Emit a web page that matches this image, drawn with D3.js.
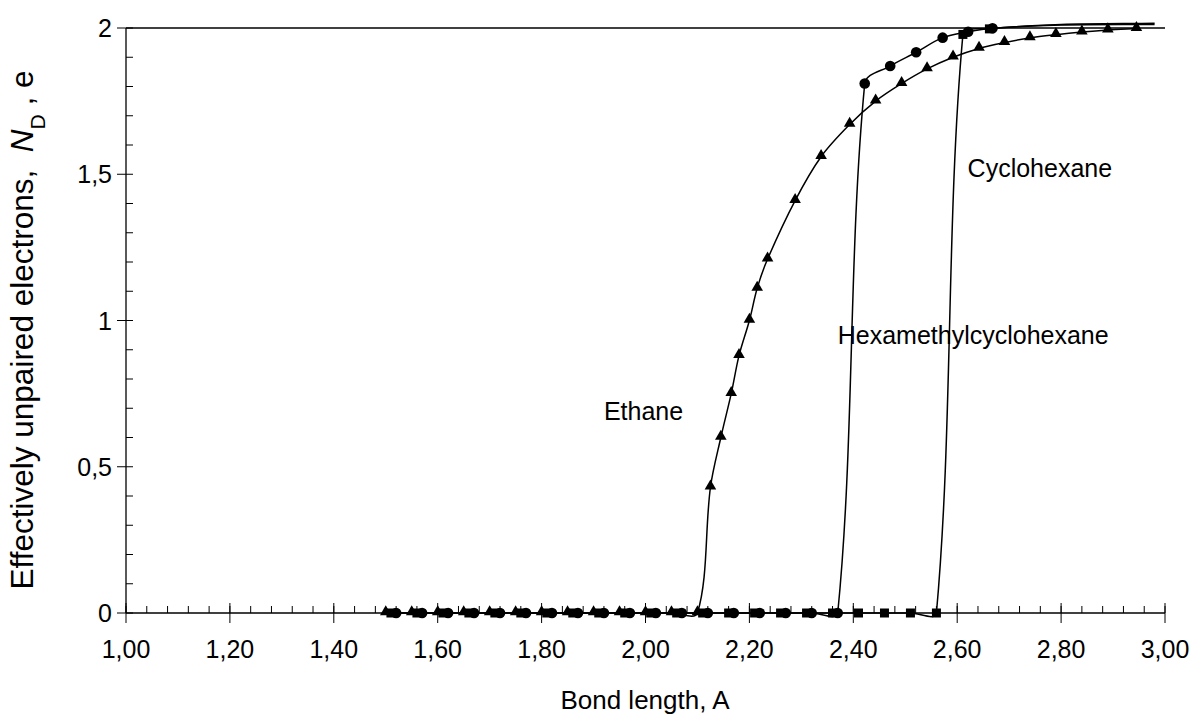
<!DOCTYPE html>
<html>
<head>
<meta charset="utf-8">
<script src="https://cdn.jsdelivr.net/npm/d3@7"></script>
<style>
html,body{margin:0;padding:0;background:#fff;}
text{font-family:Arial,"Liberation Sans",sans-serif;fill:#000;}
</style>
</head>
<body>
<svg id="chart" width="1193" height="724"></svg>
<script>
// ---- data ----
const xTicks = [1.00,1.20,1.40,1.60,1.80,2.00,2.20,2.40,2.60,2.80,3.00];
const yTicks = [0,0.5,1,1.5,2];
const xTickLabels = ["1,00","1,20","1,40","1,60","1,80","2,00","2,20","2,40","2,60","2,80","3,00"];
const yTickLabels = ["0","0,5","1","1,5","2"];

// Ethane (triangles)
const ethaneX = [1.50,1.55,1.60,1.65,1.70,1.75,1.80,1.85,1.90,1.95,2.00,2.05,2.10,
                 2.125,2.145,2.165,2.18,2.20,2.215,2.235,2.288,2.338,2.393,2.443,2.493,2.542,2.592,2.642,2.691,2.74,2.79,2.84,2.89,2.945];
const ethaneY = [0,0,0,0,0,0,0,0,0,0,0,0,0,
                 0.43,0.60,0.75,0.88,1.00,1.11,1.21,1.41,1.56,1.67,1.75,1.81,1.86,1.90,1.93,1.95,1.966,1.977,1.986,1.993,1.998];

// Hexamethylcyclohexane (circles)
const hexX = [1.52,1.57,1.62,1.67,1.72,1.77,1.82,1.87,1.92,1.97,2.02,2.07,2.12,2.17,2.22,2.27,2.32,2.37,
              2.422,2.471,2.521,2.572,2.621,2.668];
const hexY = [0,0,0,0,0,0,0,0,0,0,0,0,0,0,0,0,0,0,
              1.81,1.87,1.917,1.967,1.987,1.999];
// line continuation without markers
const hexTailX = [2.80,2.98];
const hexTailY = [2.010,2.012];

// Cyclohexane (squares)
const cycX = [1.51,1.56,1.61,1.66,1.71,1.76,1.81,1.86,1.91,1.96,2.01,2.06,2.11,2.16,2.21,2.26,2.31,2.36,2.41,2.46,2.51,2.56,
              2.611,2.662];
const cycY = [0,0,0,0,0,0,0,0,0,0,0,0,0,0,0,0,0,0,0,0,0,0,
              1.978,1.997];
const cycTailX = [2.80,2.98];
const cycTailY = [2.012,2.016];

const labels = [
  {text:"Ethane", x:1.92, y:0.66},
  {text:"Hexamethylcyclohexane", x:2.37, y:0.92},
  {text:"Cyclohexane", x:2.62, y:1.49}
];

// ---- layout ----
const svg = d3.select("#chart");
const L = 126, R = 1165, T = 28, B = 613;
const x = d3.scaleLinear().domain([1,3]).range([L,R]);
const y = d3.scaleLinear().domain([0,2]).range([B,T]);
const FS = 25;

// top border
svg.append("line").attr("x1",L).attr("x2",R).attr("y1",T).attr("y2",T)
  .attr("stroke","#000").attr("stroke-width",1.3);

// x axis minor ticks (inside, up)
const xMinor = d3.range(0,51).map(i=>1+i*0.04);
svg.append("g").selectAll("line").data(xMinor).join("line")
  .attr("x1",d=>x(d)).attr("x2",d=>x(d)).attr("y1",B).attr("y2",B-7)
  .attr("stroke","#000").attr("stroke-width",1);
// x major ticks (cross)
svg.append("g").selectAll("line").data(xTicks).join("line")
  .attr("x1",d=>x(d)).attr("x2",d=>x(d)).attr("y1",B-10).attr("y2",B+10)
  .attr("stroke","#000").attr("stroke-width",1);
// y minor ticks (inside, right)
const yMinor = d3.range(0,21).map(i=>i*0.1);
svg.append("g").selectAll("line").data(yMinor).join("line")
  .attr("x1",L).attr("x2",L+7).attr("y1",d=>y(d)).attr("y2",d=>y(d))
  .attr("stroke","#000").attr("stroke-width",1);
// y major ticks (outside)
svg.append("g").selectAll("line").data(yTicks).join("line")
  .attr("x1",L-9).attr("x2",L).attr("y1",d=>y(d)).attr("y2",d=>y(d))
  .attr("stroke","#000").attr("stroke-width",1);

// axis line
svg.append("line").attr("x1",L).attr("x2",L).attr("y1",T).attr("y2",B).attr("stroke","#000").attr("stroke-width",1.3);

// tick labels
svg.append("g").selectAll("text").data(xTicks).join("text")
  .attr("x",d=>x(d)).attr("y",B+45).attr("text-anchor","middle")
  .style("font-size",FS+"px").text((d,i)=>xTickLabels[i]);
svg.append("g").selectAll("text").data(yTicks).join("text")
  .attr("x",L-14).attr("y",d=>y(d)+9).attr("text-anchor","end")
  .style("font-size",FS+"px").text((d,i)=>yTickLabels[i]);

// axis titles
svg.append("text").attr("x",645).attr("y",709).attr("text-anchor","middle")
  .style("font-size","26px").text("Bond length, A");
const yt = svg.append("text").attr("transform","translate(33,330) rotate(-90)")
  .attr("text-anchor","middle").style("font-size","31.5px");
yt.append("tspan").text("Effectively unpaired electrons,\u00A0\u00A0");
yt.append("tspan").style("font-style","italic").text("N");
yt.append("tspan").attr("baseline-shift","sub").style("font-size","21px").text("D");
yt.append("tspan").text("\u00A0, e");

// Excel-like smoothing: Bezier with arms proportional to segment lengths
function smoothPath(pts){
  const p = d3.path();
  const n = pts.length;
  p.moveTo(pts[0][0], pts[0][1]);
  const dist = (a,b)=>Math.hypot(b[0]-a[0], b[1]-a[1]);
  for(let i=0;i<n-1;i++){
    const P0 = pts[Math.max(i-1,0)], P1 = pts[i], P2 = pts[i+1], P3 = pts[Math.min(i+2,n-1)];
    const d01 = dist(P0,P1), d12 = dist(P1,P2), d23 = dist(P2,P3);
    const t = 1/3;
    const f1 = (d01+d12)>0 ? t*d12/(d01+d12) : 0;
    const f2 = (d12+d23)>0 ? t*d12/(d12+d23) : 0;
    const c1 = [P1[0]+(P2[0]-P0[0])*f1, P1[1]+(P2[1]-P0[1])*f1];
    const c2 = [P2[0]-(P3[0]-P1[0])*f2, P2[1]-(P3[1]-P1[1])*f2];
    p.bezierCurveTo(c1[0],c1[1],c2[0],c2[1],P2[0],P2[1]);
  }
  return p.toString();
}

const series = [
  {xs:ethaneX, ys:ethaneY, tx:[], ty:[], shape:"tri"},
  {xs:hexX, ys:hexY, tx:hexTailX, ty:hexTailY, shape:"circ"},
  {xs:cycX, ys:cycY, tx:cycTailX, ty:cycTailY, shape:"sq"}
];
// x axis line
svg.append("line").attr("x1",L).attr("x2",R).attr("y1",B).attr("y2",B).attr("stroke","#000").attr("stroke-width",1.3);

series.forEach(s=>{
  const pts = s.xs.map((v,i)=>[x(v),y(s.ys[i])]).concat(s.tx.map((v,i)=>[x(v),y(s.ty[i])]));
  svg.append("path").attr("d",smoothPath(pts)).attr("fill","none").attr("stroke","#000").attr("stroke-width",1.5);
});

labels.forEach(l=>{
  svg.append("text").attr("x",x(l.x)).attr("y",y(l.y)).style("font-size",FS+"px").text(l.text);
});

series.forEach(s=>{
  const pts = s.xs.map((v,i)=>[v,s.ys[i]]);
  const g = svg.append("g");
  if(s.shape==="tri"){
    g.selectAll("path").data(pts).join("path")
      .attr("d",d3.symbol().type(d3.symbolTriangle).size(58))
      .attr("transform",d=>`translate(${x(d[0])},${y(d[1])-1})`).attr("fill","#000");
  } else if(s.shape==="circ"){
    g.selectAll("circle").data(pts).join("circle")
      .attr("cx",d=>x(d[0])).attr("cy",d=>y(d[1])).attr("r",5.3).attr("fill","#000");
  } else {
    g.selectAll("rect").data(pts).join("rect")
      .attr("x",d=>x(d[0])-4.5).attr("y",d=>y(d[1])-4.5).attr("width",9).attr("height",9).attr("fill","#000");
  }
});
</script>
</body>
</html>
